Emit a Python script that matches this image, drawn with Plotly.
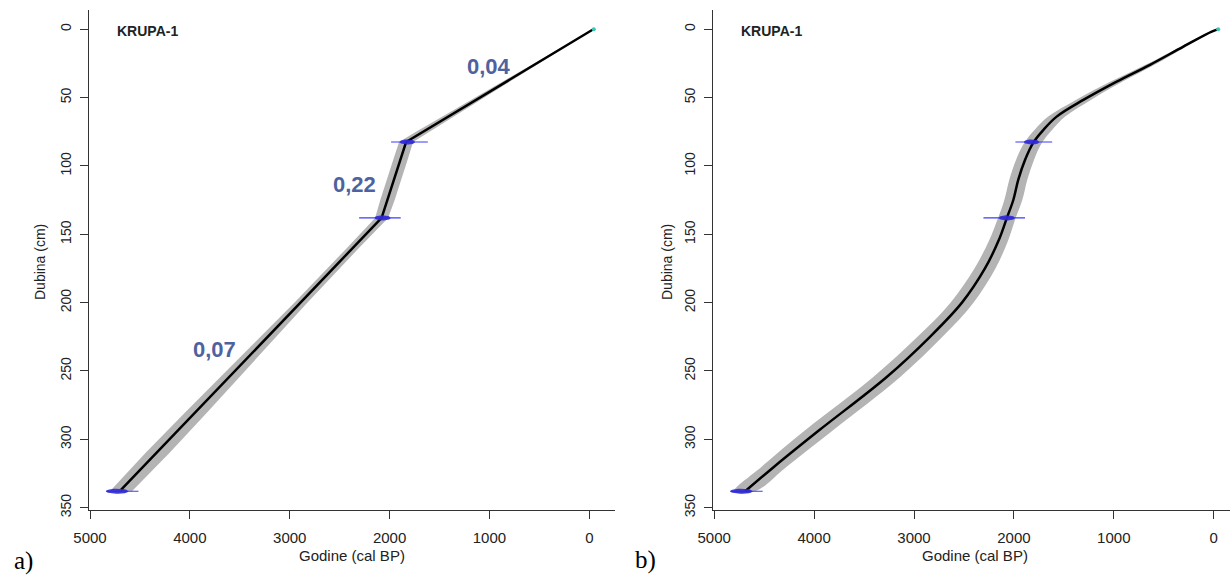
import numpy as np
import plotly.graph_objects as go

W, H = 1230, 577

# ---------------- data ----------------
x_ticks = [5000, 4000, 3000, 2000, 1000, 0]
y_ticks = [0, 50, 100, 150, 200, 250, 300, 350]

# radiocarbon dates (depth cm, calibrated ranges, cal BP)
date_depth = [82.5, 138, 338]
date_range_old = [1985, 2305, 4840]
date_range_young = [1617, 1889, 4515]
date_blob_old = [1900, 2150, 4840]
date_blob_young = [1745, 1990, 4615]
top_age = -45  # core top

# panel a: linear interpolation
a_line_depth = [0, 82.5, 138, 337]
a_line_age = [-40, 1835, 2080, 4690]
a_env_depth = [0, 20, 40, 60, 75, 82.5, 95, 110, 125, 138, 160, 200, 240, 280, 310, 330, 338]
a_env_min = [-45, 395, 834, 1269, 1595, 1765, 1818, 1881, 1950, 2015, 2307, 2824, 3321, 3823, 4205, 4471, 4580]
a_env_max = [-35, 435, 904, 1379, 1735, 1905, 1962, 2031, 2094, 2145, 2427, 2954, 3501, 4043, 4445, 4701, 4800]

# accumulation rates (cm/yr) labels for panel a
rate_text = ["0,04", "0,22", "0,07"]
rate_age = [1003, 2352, 3758]
rate_depth = [27.6, 113.9, 234.6]

# panel b: smooth spline
b_depth = [0, 1.7, 12.7, 26, 38.3, 51.7, 63.9, 73.7, 82.9, 95.6, 110, 124.9, 138.3, 154, 175, 200, 225, 254.4, 293.4, 320, 338]
b_age = [-46, 20, 304, 638, 971, 1305, 1572, 1706, 1806, 1889, 1956, 2006, 2072, 2150, 2290, 2520, 2840, 3273, 3950, 4400, 4690]
b_env_min = [-51, 10, 279, 593, 911, 1230, 1487, 1618, 1718, 1799, 1866, 1916, 1984, 2055, 2185, 2405, 2715, 3138, 3810, 4275, 4590]
b_env_max = [-41, 30, 329, 683, 1031, 1380, 1657, 1794, 1894, 1979, 2046, 2096, 2160, 2245, 2395, 2635, 2965, 3408, 4090, 4525, 4800]

site_name = "KRUPA-1"
x_title = "Godine (cal BP)"
y_title = "Dubina (cm)"

# ---------------- styling ----------------
FONT = "Liberation Sans, Arial, sans-serif"
GRAY = "#b4b4b4"
BLUE_LINE = "#3a3aff"
BLUE_BLOB = "rgba(45,40,215,0.9)"
CYAN = "#3cc8b4"
RATE_COL = "#4f62a0"

fig = go.Figure()


def add_panel(xa, ya, env_depth, env_min, env_max, line_depth, line_age, shape):
    fig.add_trace(go.Scatter(
        x=list(env_min) + list(env_max)[::-1],
        y=list(env_depth) + list(env_depth)[::-1],
        fill="toself", fillcolor=GRAY, line=dict(width=0, shape=shape),
        mode="lines", hoverinfo="skip", showlegend=False,
        xaxis=xa, yaxis=ya))
    fig.add_trace(go.Scatter(
        x=line_age, y=line_depth, mode="lines",
        line=dict(color="black", width=2.5, shape=shape),
        showlegend=False, xaxis=xa, yaxis=ya))
    # dates
    hx, hy = [], []
    for d, o, yg in zip(date_depth, date_range_old, date_range_young):
        hx += [o, yg, None]
        hy += [d, d, None]
    fig.add_trace(go.Scatter(x=hx, y=hy, mode="lines",
                             line=dict(color=BLUE_LINE, width=1.1),
                             showlegend=False, xaxis=xa, yaxis=ya))
    t = np.linspace(0, np.pi, 16)
    for d, o, yg in zip(date_depth, date_blob_old, date_blob_young):
        xs = o + (yg - o) * (1 - np.cos(t)) / 2
        h = 1.9 * np.sin(t)
        bx = list(xs) + list(xs[::-1])
        by = list(d - h) + list((d + h)[::-1])
        fig.add_trace(go.Scatter(x=bx, y=by, fill="toself", fillcolor=BLUE_BLOB,
                                 mode="lines", line=dict(width=0),
                                 showlegend=False, xaxis=xa, yaxis=ya))
    fig.add_trace(go.Scatter(x=[top_age], y=[0], mode="markers",
                             marker=dict(color=CYAN, size=4),
                             showlegend=False, xaxis=xa, yaxis=ya))


add_panel("x", "y", a_env_depth, a_env_min, a_env_max, a_line_depth, a_line_age, "linear")
add_panel("x2", "y2", b_depth, b_env_min, b_env_max, b_depth, b_age, "spline")

axis_common = dict(showgrid=False, zeroline=False, showline=True,
                   linecolor="#333", linewidth=1.2, ticks="outside",
                   ticklen=8, tickwidth=1.2, tickcolor="#333", automargin=False)

ydom = [(H - 510) / H, (H - 10) / H]
yrange = [351.7, -14.1]

fig.update_layout(
    width=W, height=H, margin=dict(l=0, r=0, t=0, b=0, autoexpand=False),
    paper_bgcolor="white", plot_bgcolor="white", showlegend=False,
    xaxis=dict(domain=[89.3 / W, 615 / W], range=[5007, -257], tickvals=x_ticks,
               anchor="y", tickfont=dict(family=FONT, size=15, color="#222"),
               ticklabelstandoff=6, **axis_common),
    yaxis=dict(domain=ydom, range=yrange, tickvals=y_ticks, anchor="x",
               tickangle=-90, tickfont=dict(family=FONT, size=14, color="#222"),
               ticklabelstandoff=4, **axis_common),
    xaxis2=dict(domain=[713.3 / W, 1.0], range=[5009, -163], tickvals=x_ticks,
                anchor="y2", tickfont=dict(family=FONT, size=15, color="#222"),
                ticklabelstandoff=6, **axis_common),
    yaxis2=dict(domain=ydom, range=yrange, tickvals=y_ticks, anchor="x2",
                tickangle=-90, tickfont=dict(family=FONT, size=14, color="#222"),
                ticklabelstandoff=4, **axis_common),
)

ann = []
# axis titles
for xc in [40, 667]:
    ann.append(dict(x=xc / W, y=1 - 262 / H, xref="paper", yref="paper",
                    xanchor="center", yanchor="middle",
                    text=y_title, textangle=-90, showarrow=False,
                    font=dict(family=FONT, size=14, color="#222")))
for xc in [352, 975]:
    ann.append(dict(x=xc / W, y=1 - 555 / H, xref="paper", yref="paper",
                    xanchor="center", yanchor="middle",
                    text=x_title, showarrow=False,
                    font=dict(family=FONT, size=15, color="#222")))
# site names
for xr, yr in [("x", "y"), ("x2", "y2")]:
    ann.append(dict(x=4750, y=1.5, xref=xr, yref=yr, text="<b>%s</b>" % site_name,
                    xanchor="left", yanchor="middle", showarrow=False,
                    font=dict(family=FONT, size=14, color="#222")))
# rates
for txt, ag, dp in zip(rate_text, rate_age, rate_depth):
    ann.append(dict(x=ag, y=dp, xref="x", yref="y", text="<b>%s</b>" % txt,
                    xanchor="center", yanchor="middle",
                    showarrow=False, font=dict(family=FONT, size=22, color=RATE_COL)))
# panel letters
for txt, xc, yc in [("a)", 23, 561), ("b)", 645, 560)]:
    ann.append(dict(x=xc / W, y=1 - yc / H, xref="paper", yref="paper", text=txt,
                    xanchor="center", yanchor="middle", showarrow=False,
                    font=dict(family="Liberation Serif, Times New Roman, serif", size=25, color="black")))
fig.update_layout(annotations=ann)

fig.write_html("out.html", config={"displayModeBar": False},
               post_script="document.body.style.margin='0px';document.body.style.overflow='hidden';")
